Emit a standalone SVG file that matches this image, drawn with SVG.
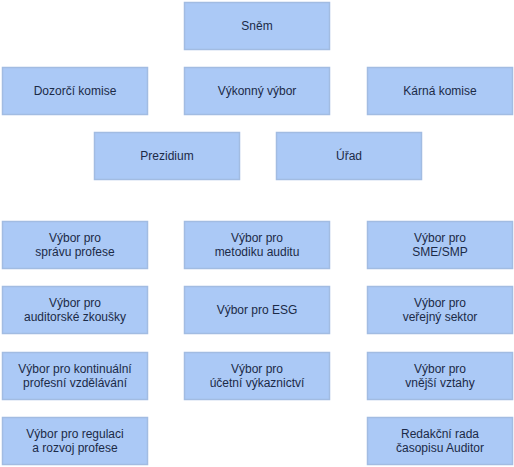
<svg xmlns="http://www.w3.org/2000/svg" width="514" height="467" viewBox="0 0 514 467">
<style>
rect.b{fill:#abc9f6;stroke:#a2bce2;stroke-width:1.5}
text{font-family:"Liberation Sans",Arial,sans-serif;font-size:12px;fill:#1b2a47;text-anchor:middle}
</style>
<rect width="514" height="467" fill="#ffffff"/>
<g id="connectors"></g>
<g id="snem"><rect class="b" x="184.5" y="2.5" width="145" height="47"/><text x="257" y="30">Sněm</text></g>
<g id="dozorci"><rect class="b" x="2.5" y="67.5" width="145" height="47"/><text x="75" y="95">Dozorčí komise</text></g>
<g id="vykonny"><rect class="b" x="184.5" y="67.5" width="145" height="47"/><text x="257" y="95">Výkonný výbor</text></g>
<g id="karna"><rect class="b" x="367.5" y="67.5" width="145" height="47"/><text x="440" y="95">Kárná komise</text></g>
<g id="prezidium"><rect class="b" x="94.5" y="132.5" width="145" height="47"/><text x="167" y="160">Prezidium</text></g>
<g id="urad"><rect class="b" x="276.5" y="132.5" width="145" height="47"/><text x="349" y="160">Úřad</text></g>
<g id="v-sprava"><rect class="b" x="2.5" y="221.5" width="145" height="47"/><text x="75" y="242">Výbor pro</text><text x="75" y="256">správu profese</text></g>
<g id="v-metodika"><rect class="b" x="184.5" y="221.5" width="145" height="47"/><text x="257" y="242">Výbor pro</text><text x="257" y="256">metodiku auditu</text></g>
<g id="v-sme"><rect class="b" x="367.5" y="221.5" width="145" height="47"/><text x="440" y="242">Výbor pro</text><text x="440" y="256">SME/SMP</text></g>
<g id="v-zkousky"><rect class="b" x="2.5" y="286.5" width="145" height="47"/><text x="75" y="307">Výbor pro</text><text x="75" y="321">auditorské zkoušky</text></g>
<g id="v-esg"><rect class="b" x="184.5" y="286.5" width="145" height="47"/><text x="257" y="314">Výbor pro ESG</text></g>
<g id="v-verejny"><rect class="b" x="367.5" y="286.5" width="145" height="47"/><text x="440" y="307">Výbor pro</text><text x="440" y="321">veřejný sektor</text></g>
<g id="v-kontinualni"><rect class="b" x="2.5" y="352.5" width="145" height="47"/><text x="75" y="373">Výbor pro kontinuální</text><text x="75" y="387">profesní vzdělávání</text></g>
<g id="v-ucetni"><rect class="b" x="184.5" y="352.5" width="145" height="47"/><text x="257" y="373">Výbor pro</text><text x="257" y="387">účetní výkaznictví</text></g>
<g id="v-vnejsi"><rect class="b" x="367.5" y="352.5" width="145" height="47"/><text x="440" y="373">Výbor pro</text><text x="440" y="387">vnější vztahy</text></g>
<g id="v-regulace"><rect class="b" x="2.5" y="417.5" width="145" height="47"/><text x="75" y="438">Výbor pro regulaci</text><text x="75" y="452">a rozvoj profese</text></g>
<g id="redakcni"><rect class="b" x="367.5" y="417.5" width="145" height="47"/><text x="440" y="438">Redakční rada</text><text x="440" y="452">časopisu Auditor</text></g>
</svg>
